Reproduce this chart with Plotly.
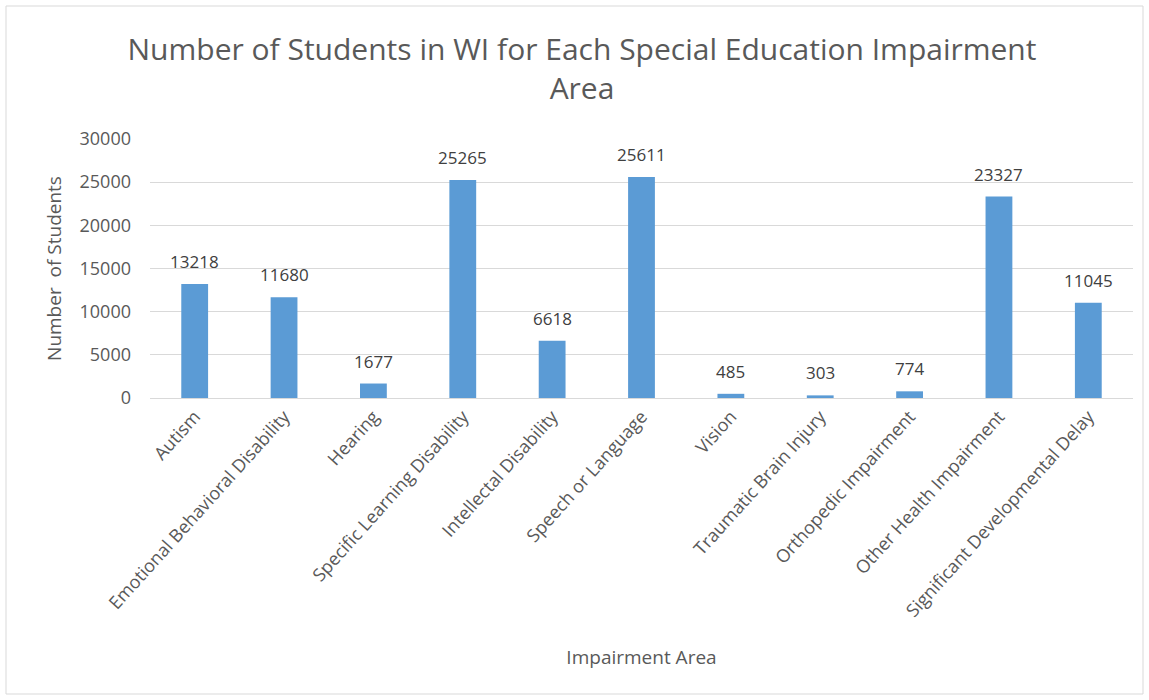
import plotly.graph_objects as go

categories = ["Autism", "Emotional Behavioral Disability", "Hearing", "Specific Learning Disability",
              "Intellectal Disability", "Speech or Language", "Vision", "Traumatic Brain Injury",
              "Orthopedic Impairment", "Other Health Impairment", "Significant Developmental Delay"]
students = [13218, 11680, 1677, 25265, 6618, 25611, 485, 303, 774, 23327, 11045]
y_ticks = [0, 5000, 10000, 15000, 20000, 25000, 30000]

W, H = 1149, 700
L, R, T, B = 150, 16, 139, 302
pw, ph = W - L - R, H - T - B

def px_x(p):
    return (p - L) / pw

def px_y(p):
    return (H - B - p) / ph

FONT = "Open Sans"
GRAY = "#595959"

fig = go.Figure(go.Bar(
    x=categories, y=students,
    marker=dict(color="#5B9BD5", line=dict(width=0)),
))

for c, v in zip(categories, students):
    fig.add_annotation(x=c, y=v, text=str(v), showarrow=False, yanchor="bottom", yshift=9,
                       font=dict(family=FONT, size=17, color="#404040"))

fig.update_layout(
    width=W, height=H,
    margin=dict(l=L, r=R, t=T, b=B, autoexpand=False),
    paper_bgcolor="white", plot_bgcolor="white",
    bargap=0.70,
    showlegend=False,
    title=dict(text="Number of Students in WI for Each Special Education Impairment<br>Area",
               x=582 / W, xanchor="center", y=1 - 60 / H, yanchor="middle",
               font=dict(family=FONT, size=30, color=GRAY)),
    xaxis=dict(tickangle=-48, tickfont=dict(family=FONT, size=18, color=GRAY),
               showline=True, linecolor="#d9d9d9", linewidth=1, ticks="",
               title=dict(text="Impairment Area", font=dict(family=FONT, size=19, color=GRAY), standoff=30),
               automargin=False),
    yaxis=dict(range=[0, 30000], tickvals=y_ticks, ticktext=[str(t) for t in y_ticks],
               showgrid=True, gridcolor="#d9d9d9",
               zeroline=False, tickfont=dict(family=FONT, size=18, color=GRAY), ticks="",
               ticklabelstandoff=18,
               title=dict(text="Number  of Students", font=dict(family=FONT, size=19, color=GRAY), standoff=12),
               automargin=False),
    shapes=[dict(type="rect", xref="paper", yref="paper",
                 x0=px_x(6), x1=px_x(1143), y0=px_y(694), y1=px_y(6),
                 line=dict(color="#d9d9d9", width=1), layer="below")],
)

fig.write_html("out.html")
